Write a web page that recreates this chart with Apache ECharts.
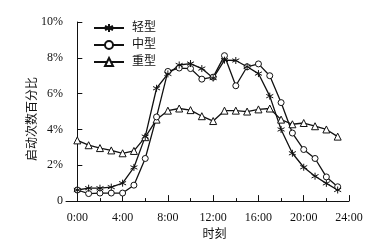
<!DOCTYPE html>
<html>
<head>
<meta charset="utf-8">
<script src="https://cdn.jsdelivr.net/npm/echarts@6/dist/echarts.min.js"></script>
<style>
  html, body { margin: 0; padding: 0; background: #fff; }
  #main { width: 376px; height: 246px; }
</style>
</head>
<body>
<div id="main"></div>
<script>
// hours 0..23
var hours = [0,1,2,3,4,5,6,7,8,9,10,11,12,13,14,15,16,17,18,19,20,21,22,23];
var seriesNames = ["轻型", "中型", "重型"];
// 启动次数百分比 (%)
var light = [0.62,0.72,0.72,0.78,1.0,1.88,3.6,6.3,7.1,7.6,7.68,7.4,6.87,7.87,7.85,7.5,7.12,5.86,4.0,2.67,1.89,1.39,0.99,0.62];
var medium = [0.62,0.42,0.45,0.45,0.45,0.89,2.38,4.7,7.24,7.43,7.4,6.81,6.92,8.12,6.44,7.5,7.66,7.0,5.5,3.8,2.88,2.38,1.35,0.8];
var heavy = [3.39,3.12,2.96,2.83,2.67,2.8,3.57,4.55,5.05,5.17,5.08,4.74,4.47,5.05,5.05,5.0,5.12,5.17,4.55,4.29,4.36,4.18,4.0,3.6];
var xMajorTicks = [0,4,8,12,16,20,24];
var xMinorTicks = [2,6,10,14,18,22];
var yName = "启动次数百分比";

var FONT = '"Liberation Serif", "Noto Sans CJK SC", serif';
var INK = '#111';
var asterisk = 'path://M0,-5L0,5M-4.33,-2.5L4.33,2.5M-4.33,2.5L4.33,-2.5';

function pairs(vals) {
  return vals.map(function (v, i) { return [hours[i], v]; });
}

function makeSeries(name, vals, symbol, size, fill) {
  return {
    name: name,
    type: "line",
    data: pairs(vals),
    symbol: symbol,
    symbolSize: size,
    showAllSymbol: true,
    lineStyle: { color: INK, width: 1.3 },
    itemStyle: { color: fill, borderColor: INK, borderWidth: 1 },
    emphasis: { disabled: true },
    animation: false
  };
}

var chart = echarts.init(document.getElementById("main"));
chart.setOption({
  backgroundColor: "#fff",
  animation: false,
  textStyle: { fontFamily: FONT, color: INK },
  grid: { left: 66, right: 27, top: 22, bottom: 39 },
  legend: {
    orient: "vertical",
    left: 88,
    top: 17,
    itemWidth: 30,
    itemHeight: 10,
    itemGap: 5,
    textStyle: { fontFamily: FONT, fontSize: 12, color: INK, padding: [0, 0, 0, 3] },
    data: seriesNames
  },
  // y-axis title, placed by hand
  graphic: [{
    type: "text",
    x: 32.5,
    y: 119,
    rotation: Math.PI / 2,
    style: {
      text: yName,
      font: '12px ' + FONT,
      fill: INK,
      align: "center",
      verticalAlign: "middle"
    }
  }],
  xAxis: [
    {
      type: "value",
      min: -1,
      max: 24,
      name: "时刻",
      nameLocation: "middle",
      nameGap: 24,
      nameTextStyle: { fontFamily: FONT, fontSize: 12, color: INK, padding: [0, 0, 0, 14] },
      axisLine: { lineStyle: { color: INK, width: 1 } },
      axisTick: { inside: true, length: 6, customValues: xMajorTicks, lineStyle: { color: INK } },
      axisLabel: {
        customValues: xMajorTicks,
        margin: 11,
        fontFamily: FONT,
        fontSize: 12,
        color: INK,
        formatter: function (v) { return v + ":00"; }
      },
      splitLine: { show: false }
    },
    {
      type: "value",
      min: -1,
      max: 24,
      position: "bottom",
      axisLine: { show: false },
      axisTick: { inside: true, length: 3, customValues: xMinorTicks, lineStyle: { color: INK } },
      axisLabel: { show: false },
      splitLine: { show: false }
    }
  ],
  yAxis: {
    type: "value",
    min: 0,
    max: 10,
    interval: 2,
    axisLine: { show: true, lineStyle: { color: INK, width: 1 } },
    axisTick: { show: true, inside: true, length: 5, lineStyle: { color: INK } },
    axisLabel: {
      margin: 3,
      fontFamily: FONT,
      fontSize: 12,
      color: INK,
      formatter: function (v) { return v === 0 ? "0" : v + "%"; }
    },
    splitLine: { show: false }
  },
  series: [
    makeSeries(seriesNames[2], heavy, "triangle", 7, "#fff"),
    makeSeries(seriesNames[1], medium, "circle", 6, "#fff"),
    makeSeries(seriesNames[0], light, asterisk, 7, INK)
  ]
});
</script>
</body>
</html>
